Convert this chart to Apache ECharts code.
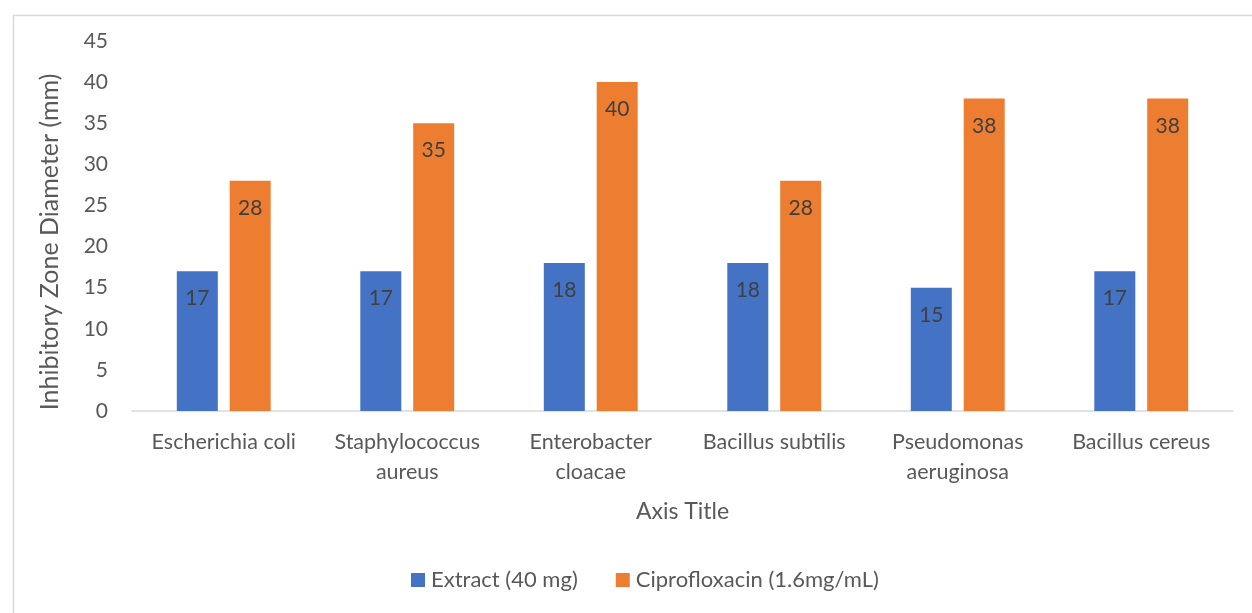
<!DOCTYPE html>
<html>
<head>
<meta charset="utf-8">
<script src="https://cdn.jsdelivr.net/npm/echarts@6/dist/echarts.min.js"></script>
<style>
html,body{margin:0;padding:0;background:#fff;}
#chart{width:1252px;height:613px;}
</style>
</head>
<body>
<div id="chart"></div>
<script>
const categories = ['Escherichia coli', 'Staphylococcus\naureus', 'Enterobacter\ncloacae', 'Bacillus subtilis', 'Pseudomonas\naeruginosa', 'Bacillus cereus'];
const extractValues = [17, 17, 18, 18, 15, 17];
const ciproValues = [28, 35, 40, 28, 38, 38];
const seriesNames = ['Extract (40 mg)', 'Ciprofloxacin (1.6mg/mL)'];
const yTicks = [0, 5, 10, 15, 20, 25, 30, 35, 40, 45];

const FONT = 'Lato, "Open Sans", sans-serif';
const TXT = '#595959';
const chart = echarts.init(document.getElementById('chart'));
const labelCfg = {
  show: true, position: 'insideTop', distance: 17,
  color: '#404040', fontSize: 21, fontFamily: FONT
};
chart.setOption({
  animation: false,
  backgroundColor: '#fff',
  graphic: [{
    type: 'rect', left: 11, top: 13,
    shape: { width: 1260, height: 620 },
    style: { fill: 'none', stroke: '#d9d9d9', lineWidth: 1.5 },
    silent: true
  }],
  grid: { left: 132, right: 19, top: 41, bottom: 202, containLabel: false },
  legend: {
    bottom: 17, left: 406,
    itemWidth: 14, itemHeight: 14, itemGap: 38,
    icon: 'rect',
    textStyle: { color: TXT, fontSize: 22, fontFamily: FONT, padding: [0, 0, 0, 1] },
    data: seriesNames
  },
  xAxis: {
    type: 'category', data: categories,
    name: 'Axis Title', nameLocation: 'middle', nameGap: 89,
    nameTextStyle: { color: TXT, fontSize: 23, fontFamily: FONT },
    axisLine: { lineStyle: { color: '#d9d9d9', width: 1.5 } },
    axisTick: { show: false },
    axisLabel: { color: TXT, fontSize: 21.5, fontFamily: FONT, margin: 16, lineHeight: 30, interval: 0 }
  },
  yAxis: {
    type: 'value', min: yTicks[0], max: yTicks[yTicks.length - 1], interval: 5,
    name: 'Inhibitory Zone Diameter (mm)', nameLocation: 'middle', nameGap: 70,
    nameTextStyle: { color: TXT, fontSize: 25, fontFamily: FONT, padding: [0, 32, 0, 0] },
    axisLine: { show: false }, axisTick: { show: false },
    splitLine: { show: false },
    axisLabel: { color: TXT, fontSize: 21, fontFamily: FONT, margin: 24 }
  },
  series: [
    { name: seriesNames[0], type: 'bar', data: extractValues, barWidth: 41, barGap: '29%',
      itemStyle: { color: '#4472c4' }, label: labelCfg },
    { name: seriesNames[1], type: 'bar', data: ciproValues, barWidth: 41, barGap: '29%',
      itemStyle: { color: '#ed7d31' }, label: labelCfg }
  ]
});
</script>
</body>
</html>
